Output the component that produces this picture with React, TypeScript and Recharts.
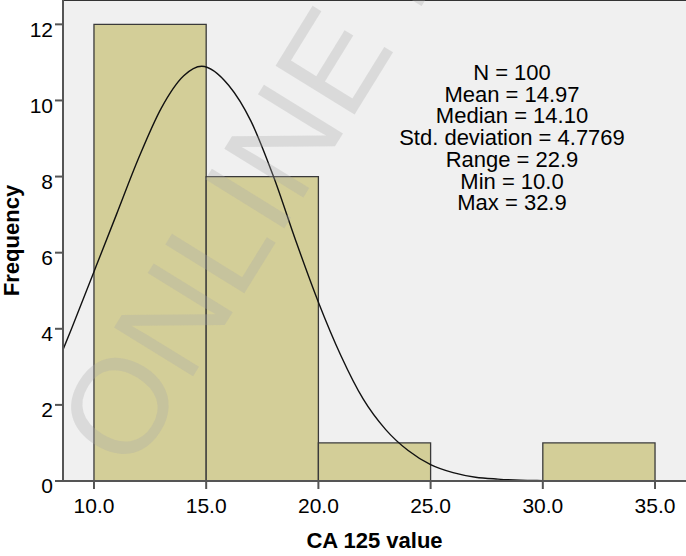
import {
  CartesianGrid,
  ComposedChart,
  Line,
  ReferenceArea,
  ReferenceLine,
  XAxis,
  YAxis,
} from "recharts"

// histogram bins of CA 125 (left edge, right edge, count)
const binStarts = [10, 15, 20, 30]
const binEnds = [15, 20, 25, 35]
const binCounts = [12, 8, 1, 1]

// normal curve
const curveX = [8.62, 9, 10, 11, 12, 13, 14, 14.8, 16, 17, 18, 19, 20, 21, 22, 23, 24, 25, 26, 27, 28, 29, 30, 32, 36.38]
const curveY = [3.45, 4.0, 5.5, 7.0, 8.5, 9.8, 10.65, 10.9, 10.4, 9.45, 8.0, 6.3, 4.7, 3.3, 2.15, 1.35, 0.8, 0.43, 0.22, 0.1, 0.05, 0.02, 0.01, 0, 0]

const xTicks = [10, 15, 20, 25, 30, 35]
const yTicks = [0, 2, 4, 6, 8, 10, 12]
const xDomain = [8.62, 36.38]
const yMax = 12.64

const statsLines = [
  "N = 100",
  "Mean = 14.97",
  "Median = 14.10",
  "Std. deviation = 4.7769",
  "Range = 22.9",
  "Min = 10.0",
  "Max = 32.9",
]

const FONT = "'Liberation Sans', Arial, sans-serif"

export default function App() {
  const curve = curveX.map((x, i) => ({ x, y: curveY[i] }))

  return (
    <div style={{ position: "absolute", left: 0, top: 0, width: 686, height: 556, background: "#fff", fontFamily: FONT }}>
      <ComposedChart
        width={686}
        height={556}
        data={curve}
        margin={{ top: 0, right: 0, bottom: 0, left: 0 }}
      >
        <CartesianGrid fill="#F0F0F0" horizontal={false} vertical={false} stroke="none" />
        {binStarts.map((x0, i) => (
          <ReferenceArea
            key={x0}
            x1={x0}
            x2={binEnds[i]}
            y1={0}
            y2={binCounts[i]}
            fill="#D3CE98"
            fillOpacity={1}
            stroke="#3a3a3a"
            strokeWidth={1.3}
          />
        ))}
        <Line
          type="monotone"
          dataKey="y"
          stroke="#111"
          strokeWidth={1.4}
          dot={false}
          activeDot={false}
          isAnimationActive={false}
        />
        <ReferenceLine y={yMax} stroke="#333" strokeWidth={2} />
        <XAxis
          type="number"
          dataKey="x"
          domain={xDomain}
          ticks={xTicks}
          allowDataOverflow
          height={75}
          tickSize={8}
          tickMargin={9}
          stroke="#555"
          strokeWidth={2}
          tick={{ fontSize: 21, fill: "#000", fontFamily: FONT }}
          tickFormatter={(v: number) => v.toFixed(1)}
          label={{
            value: "CA 125 value",
            position: "insideBottom",
            offset: 8,
            style: { fontSize: 22, fontWeight: "bold", fill: "#000", fontFamily: FONT },
          }}
        />
        <YAxis
          type="number"
          domain={[0, yMax]}
          ticks={yTicks}
          allowDataOverflow
          width={63}
          tickSize={8}
          stroke="#555"
          strokeWidth={2}
          tick={{ fontSize: 21, fill: "#000", fontFamily: FONT, dy: 5 }}
          label={{
            value: "Frequency",
            angle: -90,
            position: "insideLeft",
            offset: 11,
            style: { textAnchor: "middle", fontSize: 22, fontWeight: "bold", fill: "#000", fontFamily: FONT },
          }}
        />
      </ComposedChart>

      <div
        style={{
          position: "absolute",
          left: 387,
          top: 62,
          width: 250,
          textAlign: "center",
          fontSize: 22,
          lineHeight: "21.7px",
          color: "#000",
          whiteSpace: "nowrap",
        }}
      >
        {statsLines.map((s) => (
          <div key={s}>{s}</div>
        ))}
      </div>

      {/* watermark */}
      <svg width={686} height={556} style={{ position: "absolute", left: 0, top: 0, pointerEvents: "none" }}>
        <text
          transform="translate(132,475) rotate(-58.3)"
          fontSize={135}
          fontFamily={FONT}
          fill="#a8a8a8"
          fillOpacity={0.3}
        >
          ONLINE FIRST
        </text>
      </svg>
    </div>
  )
}
